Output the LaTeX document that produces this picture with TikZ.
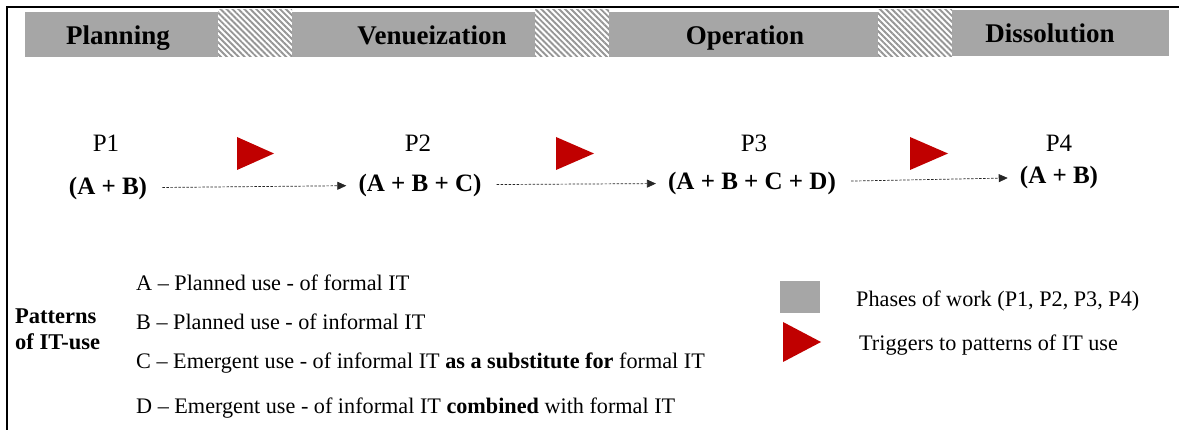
\documentclass[tikz,border=0pt]{standalone}
\usepackage{fontspec}
\setmainfont{Liberation Serif}
\usetikzlibrary{patterns.meta,arrows.meta}
\definecolor{phase}{RGB}{166,166,166}
\definecolor{trig}{RGB}{192,0,0}
\definecolor{hatchc}{RGB}{150,150,150}
\begin{document}
\begin{tikzpicture}[x=1pt,y=-1pt,
  phasebox/.style={fill=phase,draw=none},
  hatchbox/.style={draw=none,pattern={Lines[angle=-45,distance=4.2pt,line width=1.9pt]},pattern color=hatchc},
  phaselbl/.style={inner sep=0pt,anchor=base,font=\fontsize{27}{30}\selectfont\bfseries},
  plbl/.style={inner sep=0pt,anchor=base,font=\fontsize{25}{27}\selectfont},
  formula/.style={inner sep=0pt,font=\fontsize{25}{27}\selectfont\bfseries},
  legtxt/.style={inner sep=0pt,anchor=west,font=\fontsize{22.2}{24}\selectfont},
  flow/.style={line width=0.7pt,draw=black!85,dash pattern=on 2.5pt off 1.5pt,
    -{Triangle[length=9pt,width=8pt]},shorten <=15pt,shorten >=12pt},
  trigger/.style={fill=trig,draw=none}]
\useasboundingbox (0,0) rectangle (1179,430);
% frame
\draw[line width=1.8pt] (7,430) -- (7,7) -- (1179,7);
% phase bar
\fill[phasebox] (25,12) rectangle (218,57);
\fill[hatchbox] (218,10) rectangle (292,57);
\fill[phasebox] (292,12) rectangle (535,57);
\fill[hatchbox] (535,10) rectangle (609,57);
\fill[phasebox] (609,12) rectangle (878,57);
\fill[hatchbox] (878,10) rectangle (952,57);
\fill[phasebox] (952,10) rectangle (1169,56);
\node[phaselbl] (plan) at (118,45) {Planning};
\node[phaselbl] (venue) at (432,45) {Venueization};
\node[phaselbl] (oper) at (745,45) {Operation};
\node[phaselbl] (diss) at (1050,43) {Dissolution};
% phases
\node[plbl] (p1) at (106,152) {P1};
\node[plbl] (p2) at (418,152) {P2};
\node[plbl] (p3) at (754,152) {P3};
\node[plbl] (p4) at (1059,152) {P4};
\node[formula] (f1) at (108,188) {(A + B)};
\node[formula] (f2) at (420,185) {(A + B + C)};
\node[formula] (f3) at (752,183) {(A + B + C + D)};
\node[formula] (f4) at (1059,177) {(A + B)};
\draw[flow] (f1) -- (f2);
\draw[flow] (f2) -- (f3);
\draw[flow] (f3) -- (f4);
% triggers
\fill[trigger] (237,137) -- (274,153.5) -- (237,170) -- cycle;
\fill[trigger] (556,137) -- (594,153.5) -- (556,170) -- cycle;
\fill[trigger] (910,137) -- (948,153.5) -- (910,170) -- cycle;
% legend
\node[inner sep=0pt,anchor=west,align=left,font=\fontsize{22.5}{26}\selectfont\bfseries] (pat) at (15,329) {Patterns\\of IT-use};
\node[legtxt] (la) at (136,283) {A – Planned use - of formal IT};
\node[legtxt] (lb) at (136,322) {B – Planned use - of informal IT};
\node[legtxt] (lc) at (136,363) {C – Emergent use - of informal IT \textbf{as a substitute for} formal IT};
\node[legtxt] (ld) at (136,408) {D – Emergent use - of informal IT \textbf{combined} with formal IT};
\fill[phasebox] (780,281) rectangle (820,313);
\fill[trigger] (783,322) -- (821,342) -- (783,362) -- cycle;
\node[legtxt] (lphase) at (856,301) {Phases of work (P1, P2, P3, P4)};
\node[legtxt] (ltrig) at (859,345) {Triggers to patterns of IT use};
\end{tikzpicture}
\end{document}
